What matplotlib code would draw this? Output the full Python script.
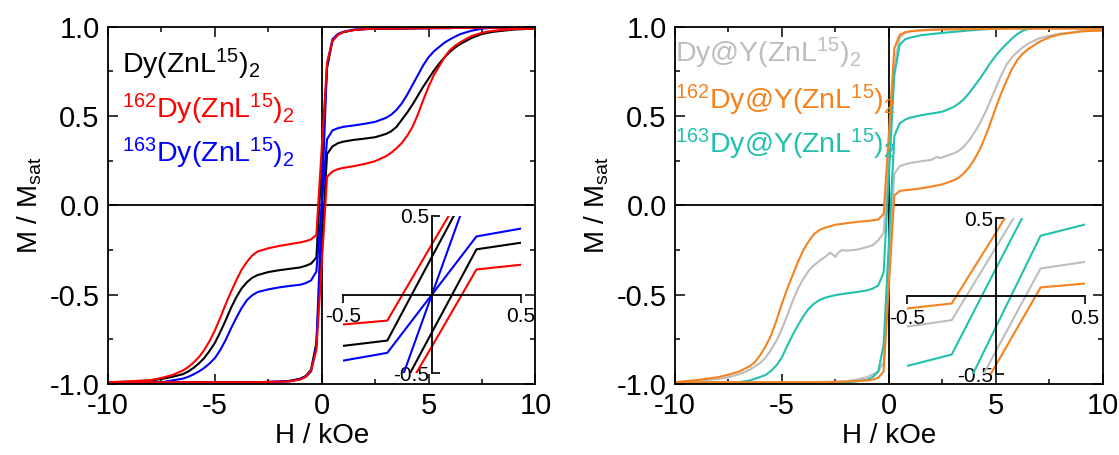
import matplotlib
matplotlib.use("Agg")
import matplotlib.pyplot as plt
from matplotlib.ticker import MultipleLocator

plt.rcParams['font.family'] = ['Liberation Sans', 'DejaVu Sans']
plt.rcParams['mathtext.fontset'] = 'custom'
plt.rcParams['mathtext.rm'] = 'Liberation Sans'
plt.rcParams['mathtext.it'] = 'Liberation Sans:italic'
plt.rcParams['mathtext.default'] = 'regular'
plt.rcParams['axes.unicode_minus'] = False

# field grid (kOe), shared by most branches: 27 negative points, 0, 27 positive points
H = [-10, -9, -8, -7.5, -7, -6.5, -6.25, -6, -5.75, -5.5, -5.25, -5, -4.75, -4.5, -4.25, -4, -3.75, -3.5,
     -3.25, -3, -2.5, -2, -1.5, -1, -0.75, -0.5, -0.25,
     0,
     0.25, 0.5, 0.75, 1, 1.5, 2, 2.5, 3, 3.25, 3.5, 3.75, 4, 4.25, 4.5, 4.75, 5, 5.25, 5.5, 5.75, 6, 6.25,
     6.5, 7, 7.5, 8, 9, 10]

# saturated stretches
sat_neg = [-0.99] * 20
sat_pos = [0.99, 0.99, 0.99, 0.99, 0.991, 0.991, 0.992, 0.992, 0.992, 0.993, 0.993, 0.993, 0.993, 0.994,
           0.994, 0.994, 0.995, 0.995, 0.995, 0.995]

# ---- left panel: Dy(ZnL15)2 family ----
black_up = ([-0.99, -0.987, -0.98, -0.972, -0.96, -0.945, -0.93, -0.91, -0.885, -0.855, -0.815, -0.77, -0.71,
             -0.645, -0.575, -0.515, -0.465, -0.43, -0.405, -0.39, -0.373, -0.363, -0.355, -0.347, -0.338,
             -0.326, -0.292]
            + [0.24]
            + [0.77, 0.92, 0.955, 0.97, 0.982, 0.987, 0.99] + sat_pos)
black_dn = (sat_neg + [-0.988, -0.986, -0.982, -0.97, -0.955, -0.92, -0.77]
            + [-0.24]
            + [0.288, 0.33, 0.348, 0.357, 0.367, 0.374, 0.382, 0.40, 0.415, 0.44, 0.48, 0.52, 0.565, 0.615,
               0.665, 0.71, 0.755, 0.795, 0.83, 0.86, 0.885, 0.905, 0.937, 0.96, 0.972, 0.985, 0.99])
red_up = ([-0.99, -0.985, -0.978, -0.966, -0.95, -0.925, -0.905, -0.88, -0.85, -0.81, -0.76, -0.70, -0.63,
           -0.555, -0.485, -0.42, -0.36, -0.316, -0.28, -0.258, -0.24, -0.227, -0.217, -0.207, -0.20, -0.19,
           -0.165]
          + [0.32]
          + [0.80, 0.92, 0.955, 0.97, 0.982, 0.987, 0.99] + sat_pos)
red_dn = (sat_neg + [-0.988, -0.987, -0.985, -0.975, -0.96, -0.925, -0.81]
          + [-0.33]
          + [0.16, 0.19, 0.203, 0.21, 0.22, 0.232, 0.248, 0.275, 0.295, 0.32, 0.35, 0.39, 0.44, 0.51, 0.59,
             0.665, 0.73, 0.78, 0.83, 0.87, 0.895, 0.915, 0.948, 0.967, 0.978, 0.988, 0.99])
blue_step = ([-0.995, -0.995, -0.993, -0.99, -0.98, -0.97, -0.96, -0.946, -0.93, -0.91, -0.885, -0.855, -0.81,
              -0.755, -0.69, -0.63, -0.575, -0.53, -0.503, -0.485, -0.47, -0.459, -0.451, -0.444, -0.435,
              -0.42, -0.37]
             + [0.0]
             + [0.37, 0.42, 0.432, 0.44, 0.448, 0.457, 0.468, 0.49, 0.508, 0.535, 0.572, 0.62, 0.675, 0.73,
                0.785, 0.83, 0.863, 0.888, 0.912, 0.93, 0.946, 0.96, 0.978, 0.99, 0.995, 0.997, 0.997])
blue_sat = (sat_neg + [-0.988, -0.987, -0.985, -0.972, -0.96, -0.93, -0.79]
            + [0.0]
            + [0.79, 0.93, 0.96, 0.972, 0.985, 0.987, 0.99] + sat_pos)

# ---- right panel: Dy@Y(ZnL15)2 family ----
H_gray_up = [-10, -9, -8, -7.5, -7, -6.5, -6.25, -6, -5.75, -5.5, -5.25, -5, -4.75, -4.5, -4.25, -4, -3.75,
             -3.5, -3.25, -3, -2.75, -2.5, -2.35, -2.2, -2, -1.5, -1, -0.75, -0.5, -0.25, 0, 0.25, 0.5, 0.75,
             1, 1.5, 2, 3, 4, 5, 6, 7, 8, 9, 10]
gray_up = [-0.99, -0.983, -0.972, -0.962, -0.945, -0.92, -0.90, -0.88, -0.85, -0.805, -0.755, -0.69, -0.615,
           -0.535, -0.465, -0.41, -0.365, -0.335, -0.31, -0.29, -0.265, -0.287, -0.262, -0.25, -0.253, -0.248,
           -0.232, -0.222, -0.195, -0.154, 0.315, 0.79, 0.94, 0.965, 0.975, 0.982, 0.986, 0.99, 0.99, 0.99,
           0.99, 0.99, 0.99, 0.99, 0.99]
H_gray_dn = [-10, -8, -6, -4, -3, -2, -1.5, -1, -0.75, -0.5, -0.25, 0, 0.25, 0.5, 0.75, 1, 1.5, 2, 2.25, 2.4,
             2.75, 3, 3.25, 3.5, 3.75, 4, 4.25, 4.5, 4.75, 5, 5.25, 5.5, 5.75, 6, 6.25, 6.5, 7, 7.5, 8, 9, 10]
gray_dn = [-0.99, -0.99, -0.99, -0.99, -0.988, -0.985, -0.975, -0.96, -0.945, -0.93, -0.88, -0.35, 0.178,
           0.22, 0.23, 0.238, 0.247, 0.256, 0.272, 0.265, 0.28, 0.29, 0.305, 0.33, 0.365, 0.41, 0.46, 0.52,
           0.59, 0.66, 0.73, 0.79, 0.83, 0.86, 0.885, 0.905, 0.935, 0.95, 0.962, 0.975, 0.98]
orange_up = ([-0.99, -0.978, -0.962, -0.948, -0.93, -0.90, -0.875, -0.835, -0.785, -0.725, -0.64, -0.55,
              -0.465, -0.39, -0.315, -0.25, -0.20, -0.16, -0.138, -0.125, -0.108, -0.10, -0.092, -0.087,
              -0.083, -0.079, -0.047]
             + [0.41]
             + [0.88, 0.955, 0.97, 0.975, 0.98, 0.983, 0.985, 0.986, 0.986, 0.987, 0.987, 0.988, 0.988,
                0.988, 0.989, 0.989, 0.989, 0.99, 0.99, 0.99, 0.99, 0.99, 0.99, 0.99, 0.99, 0.99, 0.99])
orange_dn = (sat_neg + [-0.988, -0.986, -0.983, -0.98, -0.975, -0.965, -0.93]
             + [-0.44]
             + [0.056, 0.081, 0.085, 0.088, 0.096, 0.106, 0.118, 0.14, 0.155, 0.18, 0.215, 0.26, 0.315, 0.385,
                0.465, 0.55, 0.63, 0.70, 0.765, 0.815, 0.85, 0.875, 0.915, 0.942, 0.958, 0.975, 0.98])
teal_up = ([-0.997, -0.997, -0.996, -0.995, -0.99, -0.98, -0.97, -0.96, -0.948, -0.925, -0.895, -0.85, -0.785,
            -0.725, -0.67, -0.62, -0.578, -0.55, -0.53, -0.517, -0.502, -0.493, -0.485, -0.475, -0.465,
            -0.448, -0.375]
           + [0.18]
           + [0.73, 0.90, 0.93, 0.94, 0.953, 0.96, 0.966, 0.972, 0.974, 0.977, 0.98, 0.982, 0.984, 0.986,
              0.988, 0.99, 0.991, 0.993, 0.994, 0.995, 0.996, 0.996, 0.997, 0.997, 0.997, 0.997, 0.997])
teal_dn = ([-0.995] * 20 + [-0.993, -0.99, -0.985, -0.975, -0.96, -0.93, -0.78]
           + [-0.195]
           + [0.388, 0.46, 0.48, 0.492, 0.505, 0.515, 0.525, 0.55, 0.57, 0.595, 0.63, 0.67, 0.71, 0.755, 0.80,
              0.84, 0.875, 0.905, 0.935, 0.96, 0.978, 0.988, 0.995, 0.997, 0.997, 0.997, 0.997])

BLACK, RED, BLUE = "#000000", "#FF0000", "#0000FF"
GRAY, ORANGE, TEAL = "#BDBDBD", "#F5821F", "#22C0AE"

left_curves = [(H, black_up, BLACK), (H, black_dn, BLACK),
               (H, blue_step, BLUE), (H, blue_sat, BLUE),
               (H, red_up, RED), (H, red_dn, RED)]
right_curves = [(H_gray_up, gray_up, GRAY), (H_gray_dn, gray_dn, GRAY),
                (H, teal_up, TEAL), (H, teal_dn, TEAL),
                (H, orange_up, ORANGE), (H, orange_dn, ORANGE)]

left_labels = [(r'Dy(ZnL$^{15}$)$_2$', BLACK),
               (r'$^{162}$Dy(ZnL$^{15}$)$_2$', RED),
               (r'$^{163}$Dy(ZnL$^{15}$)$_2$', BLUE)]
right_labels = [(r'Dy@Y(ZnL$^{15}$)$_2$', GRAY),
                (r'$^{162}$Dy@Y(ZnL$^{15}$)$_2$', ORANGE),
                (r'$^{163}$Dy@Y(ZnL$^{15}$)$_2$', TEAL)]

fig = plt.figure(figsize=(11.19, 4.55), dpi=100)


def main_panel(rect, curves, labels, label_x, label_y):
    ax = fig.add_axes(rect)
    ax.axhline(0, color='black', lw=1.3, zorder=1)
    ax.axvline(0, color='black', lw=1.3, zorder=1)
    for hx, m, c in curves:
        ax.plot(hx, m, color=c, lw=1.5, zorder=2)
    ax.set_xlim(-10, 10)
    ax.set_ylim(-1, 1)
    ax.set_xticks([-10, -5, 0, 5, 10])
    ax.set_yticks([-1, -0.5, 0, 0.5, 1])
    ax.xaxis.set_minor_locator(MultipleLocator(2.5))
    ax.yaxis.set_minor_locator(MultipleLocator(0.25))
    ax.tick_params(which='both', direction='in', top=True, right=True, width=1.1)
    ax.tick_params(which='major', length=7, labelsize=21, pad=6)
    ax.tick_params(which='minor', length=3.5)
    for s in ax.spines.values():
        s.set_linewidth(1.3)
    ax.set_xlabel('H / kOe', fontsize=20, labelpad=2)
    ax.set_ylabel(r'M / M$_{sat}$', fontsize=20, labelpad=4)
    for i, (txt, c) in enumerate(labels):
        ax.text(label_x, label_y[i], txt, color=c, fontsize=20.5, ha='left', va='center',
                transform=ax.transAxes)
    return ax


def inset_panel(rect, curves):
    ins = fig.add_axes(rect)
    ins.patch.set_alpha(0)
    for hx, m, c in curves:
        ins.plot(hx, m, color=c, lw=1.5)
    ins.set_xlim(-0.5, 0.5)
    ins.set_ylim(-0.5, 0.5)
    ins.spines['left'].set_position(('data', 0))
    ins.spines['bottom'].set_position(('data', 0))
    ins.spines['top'].set_visible(False)
    ins.spines['right'].set_visible(False)
    for s in ('left', 'bottom'):
        ins.spines[s].set_linewidth(1.3)
    ins.set_xticks([-0.5, 0.5])
    ins.set_yticks([-0.5, 0.5])
    ins.tick_params(axis='x', direction='out', length=6, width=1.2, labelsize=15, pad=3)
    ins.tick_params(axis='y', direction='in', length=6, width=1.2, labelsize=15, pad=2)
    return ins


main_panel([0.0965, 0.156, 0.382, 0.785], left_curves, left_labels, 0.033, [0.895, 0.77, 0.645])
main_panel([0.6032, 0.156, 0.3825, 0.785], right_curves, right_labels, 0.0, [0.925, 0.795, 0.67])
inset_panel([0.3063, 0.1796, 0.1593, 0.3457], left_curves)
inset_panel([0.8108, 0.178, 0.1588, 0.3422], right_curves)

fig.savefig('out.png', dpi=100)
